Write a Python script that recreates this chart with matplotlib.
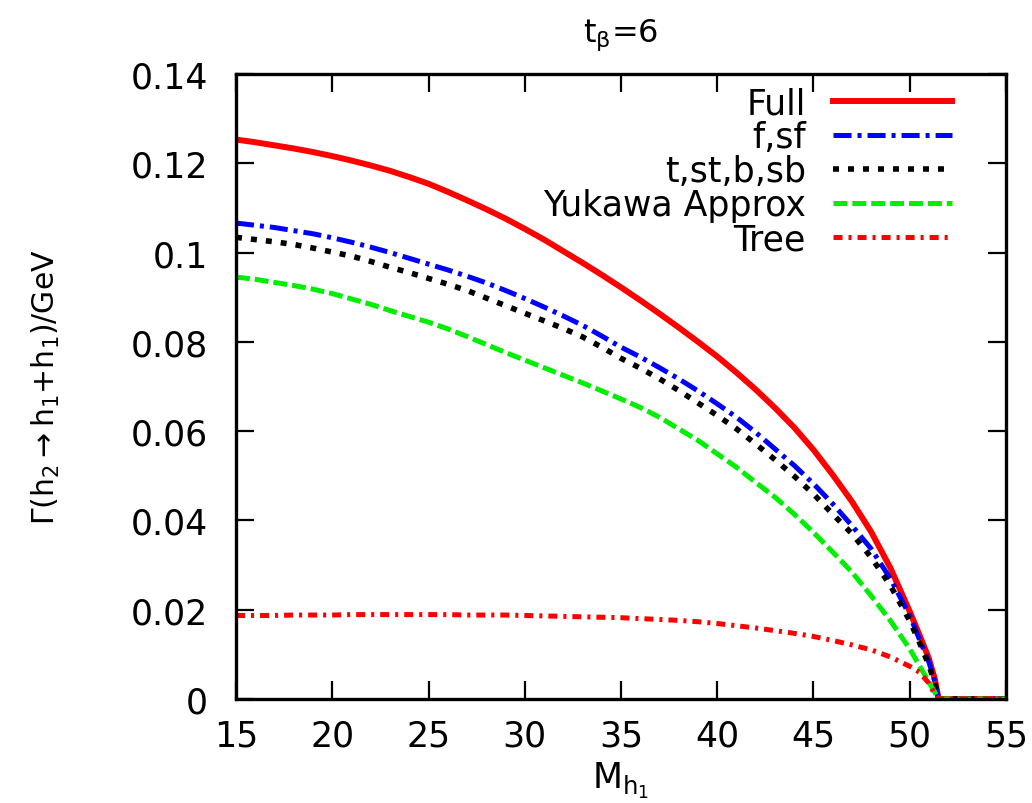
import matplotlib
matplotlib.use("Agg")
import matplotlib.pyplot as plt
import numpy as np

plt.rcParams['font.family'] = ['DejaVu Sans']
plt.rcParams['mathtext.fontset'] = 'dejavusans'
plt.rcParams['lines.scale_dashes'] = False

# M_h1 grid (GeV)
m_h1 = [15, 16, 17, 18, 19, 20, 21, 22, 23, 24, 25, 26, 27, 28, 29, 30, 31, 32, 33,
        34, 35, 36, 37, 38, 39, 40, 41, 42, 43, 44, 45, 46, 47, 48, 49, 50, 50.5,
        51, 51.3, 51.5, 52, 53, 54, 55]

# decay widths (GeV)
full = [0.1253, 0.1247, 0.1240, 0.1233, 0.1225, 0.1216, 0.1206, 0.1195, 0.1183,
        0.1169, 0.1154, 0.1136, 0.1117, 0.1097, 0.1076, 0.1053, 0.1029, 0.1003,
        0.0977, 0.0950, 0.0922, 0.0893, 0.0863, 0.0832, 0.0800, 0.0767, 0.0731,
        0.0693, 0.0652, 0.0608, 0.0558, 0.0502, 0.0442, 0.0374, 0.0293, 0.0196,
        0.0144, 0.0090, 0.0045, 0.0, 0.0, 0.0, 0.0, 0.0]
f_sf = [0.1066, 0.1061, 0.1056, 0.1049, 0.1042, 0.1033, 0.1023, 0.1012, 0.1000,
        0.0987, 0.0974, 0.0961, 0.0947, 0.0932, 0.0915, 0.0897, 0.0878, 0.0858,
        0.0837, 0.0813, 0.0788, 0.0766, 0.0742, 0.0717, 0.0690, 0.0661, 0.0631,
        0.0597, 0.0560, 0.0523, 0.0482, 0.0437, 0.0388, 0.0336, 0.0269, 0.0187,
        0.0134, 0.0082, 0.0040, 0.0, 0.0, 0.0, 0.0, 0.0]
t_st_b_sb = [0.1034, 0.1029, 0.1024, 0.1018, 0.1010, 0.1001, 0.0992, 0.0980, 0.0967,
             0.0955, 0.0942, 0.0929, 0.0915, 0.0898, 0.0881, 0.0864, 0.0847, 0.0830,
             0.0811, 0.0788, 0.0763, 0.0741, 0.0717, 0.0691, 0.0663, 0.0635, 0.0605,
             0.0571, 0.0536, 0.0499, 0.0459, 0.0414, 0.0370, 0.0317, 0.0254, 0.0175,
             0.0127, 0.0075, 0.0035, 0.0, 0.0, 0.0, 0.0, 0.0]
yukawa = [0.0945, 0.0940, 0.0933, 0.0926, 0.0918, 0.0908, 0.0896, 0.0884, 0.0870,
          0.0857, 0.0844, 0.0829, 0.0812, 0.0794, 0.0776, 0.0759, 0.0742, 0.0725,
          0.0708, 0.0690, 0.0672, 0.0653, 0.0631, 0.0605, 0.0579, 0.0549, 0.0519,
          0.0485, 0.0452, 0.0414, 0.0373, 0.0329, 0.0284, 0.0231, 0.0175, 0.0112,
          0.0075, 0.0037, 0.0015, 0.0, 0.0, 0.0, 0.0, 0.0]
tree = [0.0187, 0.0187, 0.0187, 0.0188, 0.0188, 0.0188, 0.0189, 0.0189, 0.0189,
        0.0189, 0.0189, 0.0189, 0.0188, 0.0188, 0.0188, 0.0187, 0.0186, 0.0185,
        0.0184, 0.0183, 0.0182, 0.0180, 0.0178, 0.0176, 0.0173, 0.0169, 0.0164,
        0.0159, 0.0153, 0.0147, 0.0140, 0.0131, 0.0121, 0.0110, 0.0094, 0.0073,
        0.0060, 0.0035, 0.0010, 0.0, 0.0, 0.0, 0.0, 0.0]

fig = plt.figure(figsize=(10.32, 8.04), dpi=100)
ax = fig.add_axes([0.2287, 0.1294, 0.7461, 0.7774])

ax.plot(m_h1, full, color='#ff0000', lw=4.3, label='Full')
ax.plot(m_h1, f_sf, color='#0000ff', lw=3.6, dashes=(13, 4.3, 2.9, 4.3),
        dash_capstyle='butt', label='f,sf')
ax.plot(m_h1, t_st_b_sb, color='black', lw=4.0, dashes=(4.3, 6.5),
        dash_capstyle='butt', label='t,st,b,sb')
ax.plot(m_h1, yukawa, color='#00ee00', lw=3.6, dashes=(10, 3.6),
        dash_capstyle='butt', label='Yukawa Approx')
ax.plot(m_h1, tree, color='#ff0000', lw=3.6, dashes=(6.5, 4.3, 2.2, 4.3),
        dash_capstyle='butt', label='Tree')

ax.set_xlim(15, 55)
ax.set_ylim(0, 0.14)
ax.set_xticks(np.arange(15, 56, 5))
ax.set_yticks([0, 0.02, 0.04, 0.06, 0.08, 0.1, 0.12, 0.14])
ax.set_yticklabels(['0', '0.02', '0.04', '0.06', '0.08', '0.1', '0.12', '0.14'])
ax.tick_params(direction='in', length=13, width=1.6, top=True, right=True,
               labelsize=25, pad=14)
ax.tick_params(axis='y', pad=20)
for s in ax.spines.values():
    s.set_linewidth(2.4)

ax.set_title(r't$_{\mathrm{β}}$=6', fontsize=23, pad=24)
ax.set_xlabel(r'M$_{\mathrm{h_1}}$', fontsize=25)
ax.xaxis.set_label_coords(0.5, -0.097)
ax.set_ylabel(r'$\Gamma$(h$_2$$\rightarrow$h$_1$+h$_1$)/GeV', fontsize=21.5)
ax.yaxis.set_label_coords(-0.226, 0.5)

ax.legend(loc='upper right', frameon=False, markerfirst=False, fontsize=25,
          handlelength=3.43, handletextpad=0.78, labelspacing=0.0,
          borderpad=0, borderaxespad=0, bbox_to_anchor=(0.930, 0.98))

fig.savefig('out.png', dpi=100)
